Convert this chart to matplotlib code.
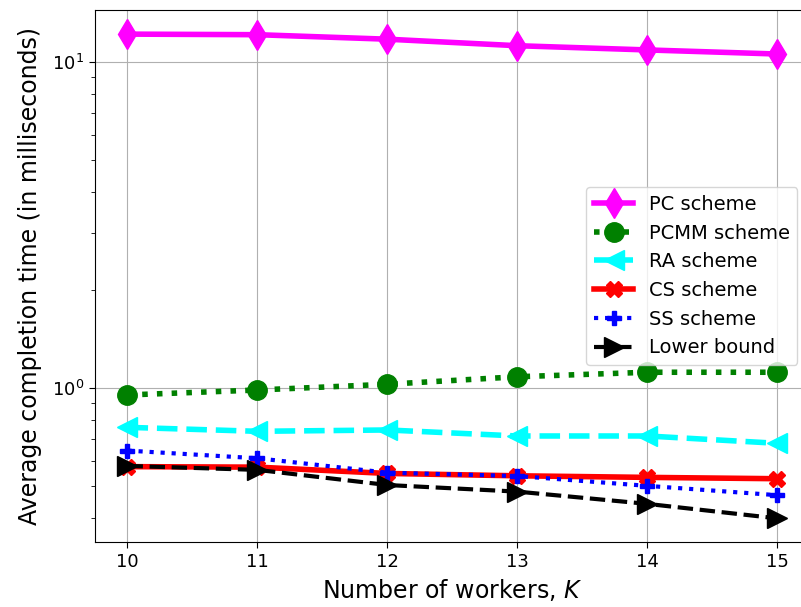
import matplotlib
matplotlib.use("Agg")
import matplotlib.pyplot as plt

workers = [10, 11, 12, 13, 14, 15]

# Average completion time (ms) for each scheme
pc_time = [12.2, 12.15, 11.77, 11.24, 10.91, 10.60]
pcmm_time = [0.954, 0.988, 1.029, 1.085, 1.12, 1.12]
ra_time = [0.759, 0.738, 0.745, 0.714, 0.714, 0.678]
cs_time = [0.575, 0.573, 0.548, 0.539, 0.533, 0.528]
ss_time = [0.644, 0.610, 0.551, 0.538, 0.502, 0.470]
lower_bound = [0.578, 0.562, 0.505, 0.482, 0.442, 0.399]

fig = plt.figure(figsize=(8.01, 6.07), dpi=100)
# axes run slightly past the right edge of the canvas
ax = fig.add_axes([0.1186, 0.1066, 0.8926, 0.8770])

ax.plot(workers, pc_time, color="magenta", linestyle="-", linewidth=4,
        marker="d", markersize=15, label="PC scheme")
ax.plot(workers, pcmm_time, color="green", linestyle=":", linewidth=4,
        marker="o", markersize=14, label="PCMM scheme")
ax.plot(workers, ra_time, color="cyan", linestyle="--", linewidth=4,
        marker="<", markersize=15, label="RA scheme")
ax.plot(workers, cs_time, color="red", linestyle="-", linewidth=4,
        marker="X", markersize=12, label="CS scheme")
ax.plot(workers, ss_time, color="blue", linestyle=":", linewidth=3,
        marker="P", markersize=10, label="SS scheme")
ax.plot(workers, lower_bound, color="black", linestyle="--", linewidth=3,
        marker=">", markersize=15, label="Lower bound")

ax.set_yscale("log")
ax.set_ylim(0.337, 14.47)
ax.set_xlim(9.75, 15.25)
ax.set_xticks(workers)
ax.grid(True, which="major")
ax.tick_params(which="major", labelsize=13, length=4.5)
ax.tick_params(which="minor", length=3.2)

ax.set_xlabel("Number of workers, $K$", fontsize=17)
ax.set_ylabel("Average completion time (in milliseconds)", fontsize=17, labelpad=7)
ax.legend(loc="center right", bbox_to_anchor=(0.996, 0.5), fontsize=14)

fig.savefig("out.png", dpi=100)
